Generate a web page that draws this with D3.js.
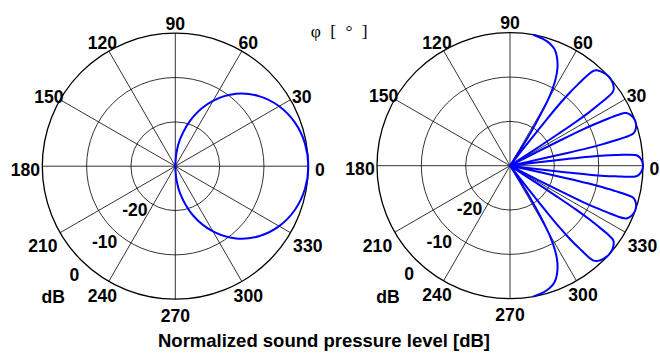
<!DOCTYPE html>
<html><head><meta charset="utf-8">
<script src="https://cdn.jsdelivr.net/npm/d3@7"></script>
<style>body{margin:0;background:#fff}</style>
</head><body>
<svg id="c" width="660" height="354"></svg>
<script>
// ---- data ----
const angleTicks = [0, 30, 60, 90, 120, 150, 180, 210, 240, 270, 300, 330];
const ringDb = [-20, -10, 0];
const dbMin = -30;

const leftAngles = [-90, -85, -80, -70, -60, -50, -40, -30, -20, -10, 0, 10, 20, 30, 40, 50, 60, 70, 80, 85, 90];
const leftDb     = [-30, -26.9, -23.8, -18.1, -13.0, -8.7, -5.4, -2.95, -1.27, -0.31, 0, -0.31, -1.27, -2.95, -5.4, -8.7, -13.0, -18.1, -23.8, -26.9, -30];

const rightAngles = [
  -80, -78, -75, -72, -69, -66.5, -64, -62, -60.5, -59.5, -58.5, -57.5, -56.5,
  -52.15, -51.88, -51.60, -51.23, -50.69, -49.97, -49.43, -48.73, -47.87, -46.19, -44.16, -41.81, -39.54, -37.71, -36.27, -35.57, -35.01, -34.59, -34.03, -33.62, -33.34, -33.13, -32.93,
  -27.15, -26.96, -26.76, -26.51, -26.12, -25.61, -25.23, -24.72, -24.10, -22.85, -21.30, -19.47, -17.66, -16.16, -14.97, -14.38, -13.91, -13.55, -13.08, -12.73, -12.49, -12.32, -12.14,
  -7.07, -6.89, -6.72, -6.49, -6.14, -5.68, -5.34, -4.88, -4.30, -3.15, -1.72, 0, 1.72, 3.15, 4.30, 4.88, 5.34, 5.68, 6.14, 6.49, 6.72, 6.89, 7.07,
  12.14, 12.32, 12.49, 12.73, 13.08, 13.55, 13.91, 14.38, 14.97, 16.16, 17.66, 19.47, 21.30, 22.85, 24.10, 24.72, 25.23, 25.61, 26.12, 26.51, 26.76, 26.96, 27.15,
  32.93, 33.13, 33.34, 33.62, 34.03, 34.59, 35.01, 35.57, 36.27, 37.71, 39.54, 41.81, 44.16, 46.19, 47.87, 48.73, 49.43, 49.97, 50.69, 51.23, 51.60, 51.88, 52.15,
  56.5, 57.5, 58.5, 59.5, 60.5, 62, 64, 66.5, 69, 72, 75, 78, 80
];
const rightDb = [
  0, -0.2, -0.5, -1.0, -1.9, -3.4, -5.6, -8.3, -11.5, -15, -19, -23, -30,
  -30, -23, -17, -12, -8.5, -5.5, -3.2, -1.6, -1.0, -0.5, -0.15, 0, -0.15, -0.5, -1.0, -1.6, -3.2, -5.5, -8.5, -12, -17, -23, -30,
  -30, -23, -17, -12, -8.5, -5.5, -3.2, -1.6, -1.0, -0.5, -0.15, 0, -0.15, -0.5, -1.0, -1.6, -3.2, -5.5, -8.5, -12, -17, -23, -30,
  -30, -23, -17, -12, -8.5, -5.5, -3.2, -1.6, -1.0, -0.5, -0.15, 0, -0.15, -0.5, -1.0, -1.6, -3.2, -5.5, -8.5, -12, -17, -23, -30,
  -30, -23, -17, -12, -8.5, -5.5, -3.2, -1.6, -1.0, -0.5, -0.15, 0, -0.15, -0.5, -1.0, -1.6, -3.2, -5.5, -8.5, -12, -17, -23, -30,
  -30, -23, -17, -12, -8.5, -5.5, -3.2, -1.6, -1.0, -0.5, -0.15, 0, -0.15, -0.5, -1.0, -1.6, -3.2, -5.5, -8.5, -12, -17, -23, -30,
  -30, -23, -19, -15, -11.5, -8.3, -5.6, -3.4, -1.9, -1.0, -0.5, -0.2, 0
];

const angleTitle = "φ [ ° ]";
const xTitle = "Normalized sound pressure level [dB]";
const unitLabel = "dB";

// ---- drawing ----
const svg = d3.select("#c");
const R = 133;
const rad = Math.PI / 180;
const tickFont = "'Liberation Sans', Arial, sans-serif";

// small radial nudges for the angle labels, as placed in the original
function labelRadius(d) {
  if (d === 210 || d === 330) return R + 20;
  if (d === 180) return R + 17;
  if (d === 0) return R + 11.5;
  return R + 13;
}

function polar(cx, cy, angles, db) {
  const g = svg.append("g").attr("transform", `translate(${cx},${cy})`);
  const r = d3.scaleLinear().domain([dbMin, 0]).range([0, R]).clamp(true);

  g.selectAll("line.spoke").data(angleTicks).join("line")
    .attr("class", "spoke")
    .attr("x1", 0).attr("y1", 0)
    .attr("x2", d => r(0) * Math.cos(d * rad))
    .attr("y2", d => -r(0) * Math.sin(d * rad))
    .attr("stroke", "#000").attr("stroke-width", 0.8);

  g.selectAll("circle.ring").data(ringDb).join("circle")
    .attr("class", "ring")
    .attr("r", d => r(d))
    .attr("fill", "none").attr("stroke", "#000")
    .attr("stroke-width", d => d === 0 ? 1.3 : 0.8);

  g.selectAll("text.ang").data(angleTicks).join("text")
    .attr("class", "ang")
    .attr("x", d => labelRadius(d) * Math.cos(d * rad))
    .attr("y", d => -labelRadius(d) * Math.sin(d * rad) + 3)
    .attr("dy", "0.36em")
    .attr("text-anchor", "middle")
    .attr("font-family", tickFont).attr("font-weight", "bold").attr("font-size", 17.6)
    .text(d => d);

  const la = 227 * rad;
  g.selectAll("text.ring").data(ringDb).join("text")
    .attr("class", "ring")
    .attr("x", d => (r(d) + 15) * Math.cos(la))
    .attr("y", d => -(r(d) + 15) * Math.sin(la))
    .attr("dy", "0.36em")
    .attr("text-anchor", "middle")
    .attr("font-family", tickFont).attr("font-weight", "bold").attr("font-size", 17.6)
    .text(d => d);

  g.append("text")
    .attr("x", (r(0) + 46) * Math.cos(la))
    .attr("y", -(r(0) + 46) * Math.sin(la))
    .attr("dy", "0.36em")
    .attr("text-anchor", "middle")
    .attr("font-family", tickFont).attr("font-weight", "bold").attr("font-size", 17.6)
    .text(unitLabel);

  const line = d3.lineRadial()
    .angle(d => (90 - d[0]) * rad)
    .radius(d => r(d[1]))
    .curve(d3.curveCatmullRom.alpha(0.5));

  g.append("path")
    .datum(d3.zip(angles, db))
    .attr("d", line)
    .attr("fill", "none")
    .attr("stroke", "#0000ff")
    .attr("stroke-width", 2)
    .attr("stroke-linejoin", "round");
}

polar(175.3, 166.2, leftAngles, leftDb);
polar(510, 165.7, rightAngles, rightDb);

svg.append("text")
  .attr("x", 340.5).attr("y", 37)
  .attr("text-anchor", "middle")
  .attr("font-family", "'Liberation Serif', 'Times New Roman', serif")
  .attr("font-size", 17.5)
  .attr("letter-spacing", 2.5)
  .attr("fill", "#000")
  .text(angleTitle);

svg.append("text")
  .attr("x", 324).attr("y", 346.5)
  .attr("text-anchor", "middle")
  .attr("font-family", tickFont).attr("font-weight", "bold").attr("font-size", 18.5)
  .text(xTitle);
</script>
</body></html>
